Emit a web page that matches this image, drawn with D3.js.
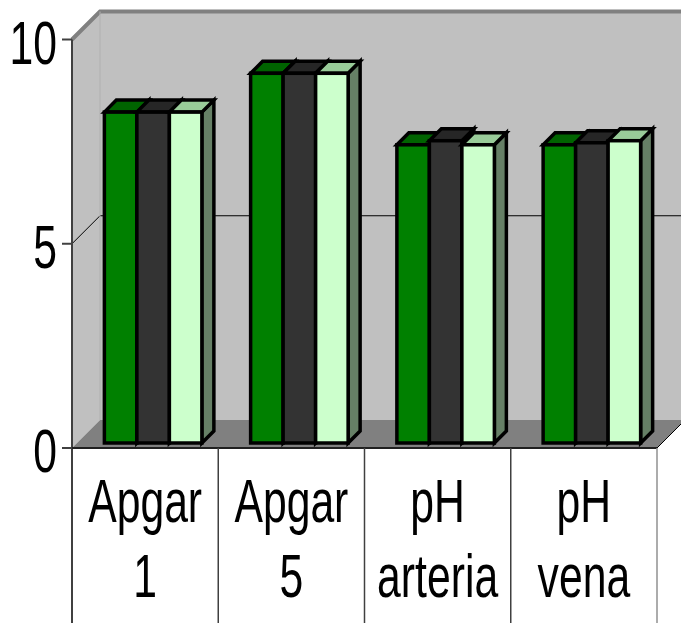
<html>
<head>
  <meta charset="utf-8" />
<script src="https://d3js.org/d3.v7.min.js"></script>
</head>
<style>
  body { margin: 0; background: #fff; }
  svg { width: 681px; height: 623px; display: block; }
  text { font-family: "Liberation Sans", Arial, sans-serif; fill: #000; }
</style>
<body>
<svg class="main" width="681" height="623"></svg>
<script>

const categories = ["Apgar 1", "Apgar 5", "pH arteria", "pH vena"]
const series = ["seria1", "seria2", "seria3"]
const seria1 = [8.1, 9.05, 7.3, 7.3]
const seria2 = [8.1, 9.05, 7.4, 7.35]
const seria3 = [8.1, 9.05, 7.3, 7.4]
const yTicks = [0, 5, 10]

const seriesValues = [seria1, seria2, seria3]
const front = ["#008000", "#333333", "#ccffcc"]
const top_ = ["#006400", "#262626", "#99cc99"]
const side = ["#004000", "#1a1a1a", "#668066"]

const D = 28        // depth of the floor
const bdx = 8, bdy = 5, bd = 12   // bar offset and bar depth

const svg = d3.select("svg")

const y = d3.scaleLinear().domain([0, 10]).range([448, 39.5])
const x = d3.scaleBand().domain(categories).range([72, 657])
const xs = d3.scaleBand().domain(series).range([0, x.bandwidth()]).paddingOuter(0.75)

const x0 = 72, x1 = 657, y0 = y(0), yTop = y(10)
const pts = p => p.map(d => d.join(",")).join(" ")

// walls and floor
svg.append("polygon")
  .attr("points", pts([[x0, yTop], [x0 + D, yTop - D], [x0 + D, y0 - D], [x0, y0]]))
  .style("fill", "#c0c0c0")
svg.append("rect")
  .attr("x", x0 + D).attr("y", yTop - D)
  .attr("width", 700 - x0 - D).attr("height", y0 - yTop)
  .style("fill", "#c0c0c0")
svg.append("polygon")
  .attr("points", pts([[x0, y0], [x0 + D, y0 - D], [x1 + D, y0 - D], [x1, y0]]))
  .style("fill", "#808080")

// gridline at 5
svg.append("polyline")
  .attr("points", pts([[x0, y(5)], [x0 + D, y(5) - D], [700, y(5) - D]]))
  .style("fill", "none").style("stroke", "#000").style("stroke-width", 1)

// wall edges
svg.append("polyline")
  .attr("points", pts([[x0, yTop], [x0 + D, yTop - D], [700, yTop - D]]))
  .style("fill", "none").style("stroke", "#808080").style("stroke-width", 4)
svg.append("line")
  .attr("x1", x0 + D).attr("x2", x0 + D).attr("y1", yTop - D).attr("y2", y0 - D)
  .style("stroke", "#b0b0b0").style("stroke-width", 1)
svg.append("line")
  .attr("x1", x1).attr("y1", y0).attr("x2", x1 + D).attr("y2", y0 - D)
  .style("stroke", "#000").style("stroke-width", 1)

// bars
categories.forEach((c, ci) => {
  series.forEach((s, si) => {
    const v = seriesValues[si][ci]
    const l = x(c) + xs(s) + bdx, r = l + xs.bandwidth()
    const t = y(v) - bdy, b = y0 - bdy
    const g = svg.append("g")
      .style("stroke", "#000").style("stroke-width", 3.5).style("stroke-linejoin", "miter")
    g.append("polygon")
      .attr("points", pts([[r, t], [r + bd, t - bd], [r + bd, b - bd], [r, b]]))
      .style("fill", side[si])
    g.append("polygon")
      .attr("points", pts([[l, t], [l + bd, t - bd], [r + bd, t - bd], [r, t]]))
      .style("fill", top_[si])
    g.append("rect")
      .attr("x", l).attr("y", t).attr("width", r - l).attr("height", b - t)
      .style("fill", front[si])
  })
})

// axes
svg.append("line")
  .attr("x1", x0).attr("x2", x0).attr("y1", yTop).attr("y2", 623)
  .style("stroke", "#404040").style("stroke-width", 2)
svg.append("line")
  .attr("x1", x0 - 10).attr("x2", x1).attr("y1", y0).attr("y2", y0)
  .style("stroke", "#202020").style("stroke-width", 2)
svg.selectAll("line.tick")
  .data(yTicks)
  .enter()
  .append("line")
  .attr("class", "tick")
  .attr("x1", x0 - 10).attr("x2", x0)
  .attr("y1", d => y(d)).attr("y2", d => y(d))
  .style("stroke", "#404040").style("stroke-width", 2)

svg.selectAll("text.ylab")
  .data(yTicks)
  .enter()
  .append("text")
  .attr("class", "ylab")
  .attr("text-anchor", "end")
  .attr("transform", d => `translate(57,${y(d) + 24}) scale(0.7,1)`)
  .style("font-size", "61px")
  .text(d => d)

// category dividers
svg.selectAll("line.div")
  .data(categories.slice(1).map(c => x(c)).concat([x1]))
  .enter()
  .append("line")
  .attr("class", "div")
  .attr("x1", d => d).attr("x2", d => d).attr("y1", y0).attr("y2", 623)
  .style("stroke", (d, i) => i === 3 ? "#909090" : "#404040")
  .style("stroke-width", 1.5)

categories.forEach(c => {
  c.split(" ").forEach((w, li) => {
    svg.append("text")
      .attr("text-anchor", "middle")
      .attr("transform", `translate(${x(c) + x.bandwidth() / 2},${522 + li * 75}) scale(0.7,1)`)
      .style("font-size", "61px")
      .text(w)
  })
})

</script>
</body>
</html>
